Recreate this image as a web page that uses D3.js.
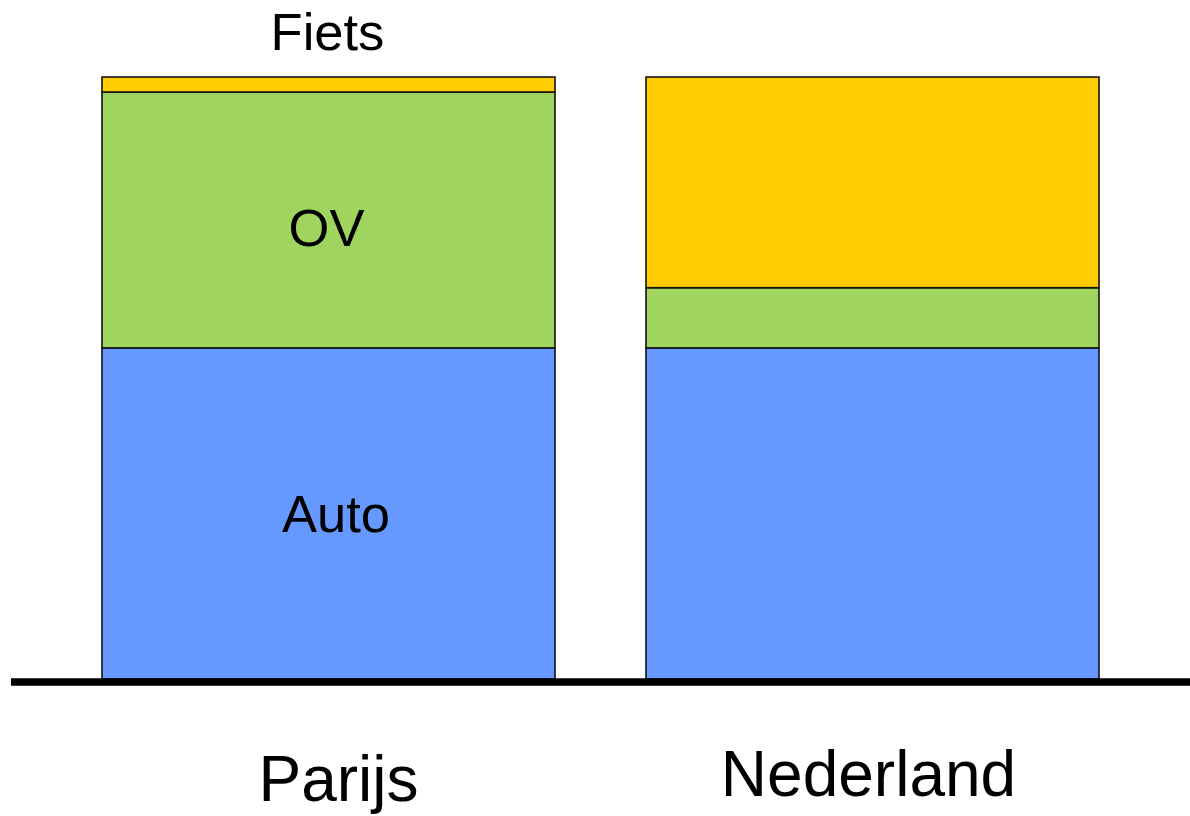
<!DOCTYPE html>
<html>
<head>
<meta charset="utf-8">
<script src="https://cdn.jsdelivr.net/npm/d3@7"></script>
<style>
  html, body { margin: 0; padding: 0; background: #fff; }
  svg { display: block; font-family: "Liberation Sans", Arial, sans-serif; }
</style>
</head>
<body>
<svg id="chart" width="1190" height="816"></svg>
<script>
// Data (percentages of trips)
const categories = ["Parijs", "Nederland"];
const series = ["Auto", "OV", "Fiets"];
const auto  = [55, 55];
const ov    = [42.5, 10];
const fiets = [2.5, 35];

const colors = { Auto: "#6699ff", OV: "#9fd55f", Fiets: "#ffcc00" };

const svg = d3.select("#chart");

const x = d3.scaleBand().domain(categories).range([102, 1099]).paddingInner(0.1673).paddingOuter(0);
const y = d3.scaleLinear().domain([0, 100]).range([679, 77]);

const table = categories.map((c, i) => ({ category: c, Auto: auto[i], OV: ov[i], Fiets: fiets[i] }));
const stacked = d3.stack().keys(series)(table);

const g = svg.append("g");
g.selectAll("g.layer")
  .data(stacked)
  .join("g")
  .attr("class", "layer")
  .attr("fill", d => colors[d.key])
  .selectAll("rect")
  .data(d => d)
  .join("rect")
  .attr("x", d => x(d.data.category))
  .attr("width", x.bandwidth())
  .attr("y", d => y(d[1]))
  .attr("height", d => y(d[0]) - y(d[1]))
  .attr("stroke", "#111")
  .attr("stroke-width", 1.6);

// Baseline
svg.append("line")
  .attr("x1", 11).attr("x2", 1190)
  .attr("y1", y(0) + 3).attr("y2", y(0) + 3)
  .attr("stroke", "#000").attr("stroke-width", 7.5);

// Category labels
svg.selectAll("text.cat")
  .data(categories)
  .join("text")
  .attr("class", "cat")
  .attr("x", d => x(d) + x.bandwidth() / 2 + (d === "Parijs" ? 10 : -4))
  .attr("y", d => d === "Parijs" ? 801 : 796)
  .attr("text-anchor", "middle")
  .attr("font-size", 64)
  .attr("fill", "#000")
  .text(d => d);

// Segment labels for Parijs
const p = stacked.map(s => ({ key: s.key, seg: s[0] }));
const labelDy = { Auto: 19, OV: 26, Fiets: -27 };
const labelDx = { Auto: 7.5, OV: -2, Fiets: -1 };
svg.selectAll("text.seg")
  .data(p)
  .join("text")
  .attr("class", "seg")
  .attr("x", d => x(d.seg.data.category) + x.bandwidth() / 2 + labelDx[d.key])
  .attr("y", d => d.key === "Fiets" ? y(d.seg[1]) + labelDy[d.key] : (y(d.seg[0]) + y(d.seg[1])) / 2 + labelDy[d.key])
  .attr("text-anchor", "middle")
  .attr("font-size", 52.5)
  .attr("fill", "#000")
  .text(d => d.key);
</script>
</body>
</html>
